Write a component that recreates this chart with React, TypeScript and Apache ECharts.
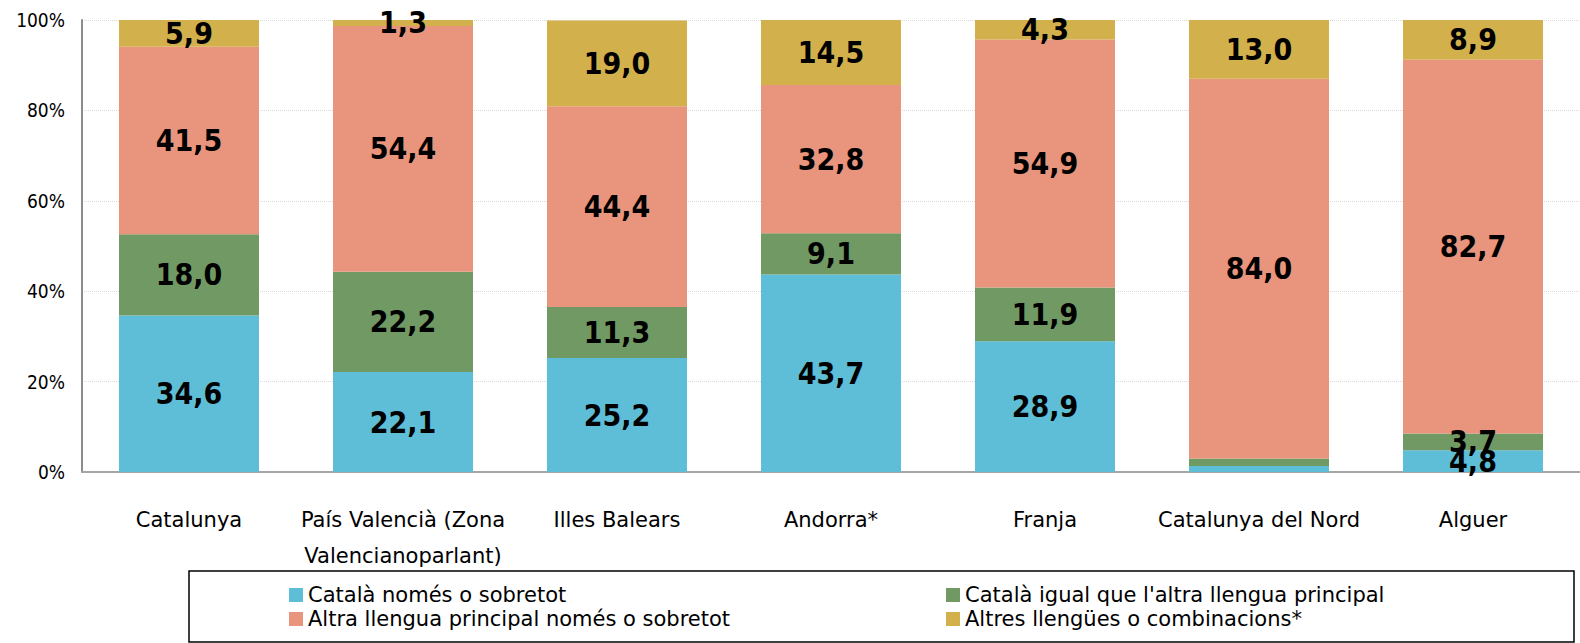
import React, { useEffect, useRef } from "react";
import * as echarts from "echarts";

const categories = [
  "Catalunya",
  "País Valencià (Zona\nValencianoparlant)",
  "Illes Balears",
  "Andorra*",
  "Franja",
  "Catalunya del Nord",
  "Alguer",
];
const seriesNames = [
  "Català només o sobretot",
  "Català igual que l'altra llengua principal",
  "Altra llengua principal només o sobretot",
  "Altres llengües o combinacions*",
];
const catalaNomes = [34.6, 22.1, 25.2, 43.7, 28.9, 1.3, 4.8];
const catalaIgual = [18.0, 22.2, 11.3, 9.1, 11.9, 1.7, 3.7];
const altraLlengua = [41.5, 54.4, 44.4, 32.8, 54.9, 84.0, 82.7];
const altres = [5.9, 1.3, 19.0, 14.5, 4.3, 13.0, 8.9];
// category whose thin segments carry no label in the reference
const unlabelledSmall = ["Catalunya del Nord"];
const colors = ["#5EBED7", "#719964", "#E9947D", "#D2B04C"];
const yTicks = [0, 20, 40, 60, 80, 100];

export default function App() {
  const ref = useRef<HTMLDivElement>(null);
  useEffect(() => {
    if (!ref.current) return;
    const chart = echarts.init(ref.current, null, { renderer: "svg" });
    const values = [catalaNomes, catalaIgual, altraLlengua, altres];
    const legendPos = [
      { left: 289, top: 584 },
      { left: 946, top: 584 },
      { left: 289, top: 608 },
      { left: 946, top: 608 },
    ];
    chart.setOption({
      animation: false,
      color: colors,
      grid: { left: 82, right: 0, top: 20, bottom: 171, containLabel: false },
      xAxis: {
        type: "category",
        data: categories,
        axisLine: { show: true, lineStyle: { color: "#A6A6A6", width: 2 } },
        axisTick: { show: false },
        axisLabel: {
          color: "#000",
          fontFamily: "DejaVu Sans",
          fontSize: 21,
          lineHeight: 36,
          margin: 30,
          interval: 0,
        },
      },
      yAxis: {
        type: "value",
        min: yTicks[0],
        max: yTicks[yTicks.length - 1],
        interval: 20,
        axisLine: { show: true, lineStyle: { color: "#8C8C8C", width: 2 } },
        axisTick: { show: false },
        axisLabel: {
          color: "#000",
          fontFamily: "DejaVu Sans Condensed",
          fontSize: 19,
          margin: 17,
          formatter: (v: number) => `${v}%`,
        },
        splitLine: { show: true, lineStyle: { color: "#D9D9D9", type: "dotted", width: 1 } },
      },
      legend: seriesNames.map((n, i) => ({
        data: [n],
        left: legendPos[i].left,
        top: legendPos[i].top,
        icon: "rect",
        itemWidth: 14,
        itemHeight: 14,
        padding: 0,
        selectedMode: false,
        textStyle: { color: "#000", fontFamily: "DejaVu Sans", fontSize: 21, lineHeight: 22 },
      })),
      graphic: [
        {
          type: "rect",
          shape: { x: 189, y: 571, width: 1385, height: 71 },
          style: { fill: "none", stroke: "#000", lineWidth: 1.5 },
          silent: true,
        },
      ],
      series: seriesNames.map((n, i) => ({
        name: n,
        type: "bar",
        stack: "total",
        barWidth: 140,
        data: values[i].map((v, j) =>
          unlabelledSmall.includes(categories[j]) && v < 3
            ? { value: v, label: { show: false } }
            : v
        ),
        itemStyle: { color: colors[i] },
        label: {
          show: true,
          position: "inside",
          color: "#000",
          fontFamily: "DejaVu Sans Condensed",
          fontWeight: "bold",
          fontSize: 30,
          formatter: (p: any) => Number(p.value).toFixed(1).replace(".", ","),
        },
      })),
    });
    return () => chart.dispose();
  }, []);
  return (
    <div
      ref={ref}
      style={{ position: "fixed", left: 0, top: 0, width: 1580, height: 643, background: "#fff" }}
    />
  );
}
